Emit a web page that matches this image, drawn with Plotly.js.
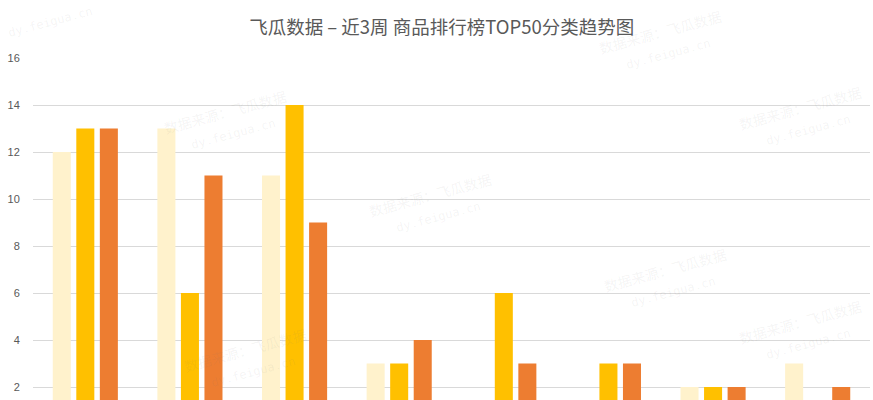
<!DOCTYPE html>
<html>
<head>
<meta charset="utf-8">
<script src="https://cdn.plot.ly/plotly-3.0.1.min.js"></script>
<style>
html,body{margin:0;padding:0;background:#fff;overflow:hidden;}
#chart{width:873px;height:400px;}
</style>
</head>
<body>
<div id="chart"></div>
<script>
const categories = ["类目1","类目2","类目3","类目4","类目5","类目6","类目7","类目8"];
const seriesNames = ["第1周","第2周","第3周"];
const week1 = [12, 13, 11, 3, 0, 0, 2, 3];
const week2 = [13, 6, 14, 3, 6, 3, 2, 0];
const week3 = [13, 11, 9, 4, 3, 3, 2, 2];
const yTicks = [2, 4, 6, 8, 10, 12, 14, 16];
const colors = ["#FFF2CC", "#FFC000", "#ED7D31"];
const titleText = "飞瓜数据 – 近3周 商品排行榜TOP50分类趋势图";

const traces = [week1, week2, week3].map((vals, i) => ({
  type: "bar",
  name: seriesNames[i],
  x: categories,
  y: vals,
  marker: {color: colors[i], line: {width: 0}},
  hoverinfo: "x+y+name"
}));

const wmColor = "rgba(120,120,120,0.08)";
const wmFont = {family: "Noto Sans CJK SC", size: 14, color: wmColor};
const wmSpots = [[660,32],[225,112],[800,108],[430,195],[665,270],[800,322],[245,350]];
const annotations = [];
function addWm(text, px, py, font) {
  annotations.push({
    xref: "paper", yref: "paper",
    x: (px - 33) / 837, y: 1 - (py - 58) / 342,
    xanchor: "center", yanchor: "middle",
    text: text, showarrow: false, textangle: -15, font: font
  });
}
const monoFont = {family: "DejaVu Sans Mono", size: 12, color: wmColor};
wmSpots.forEach(([px, py]) => {
  addWm("数据来源：飞瓜数据", px, py, wmFont);
  addWm("dy.feigua.cn", px + 8, py + 22, monoFont);
});
addWm("dy.feigua.cn", 50, 22, monoFont);

const layout = {
  width: 873, height: 400,
  margin: {l: 33, r: 3, t: 58, b: 0},
  paper_bgcolor: "#fff", plot_bgcolor: "#fff",
  showlegend: false,
  barmode: "group",
  bargap: 0.325,
  bargroupgap: 0.234,
  title: {
    text: titleText,
    xref: "container", yref: "container",
    x: 0.506, y: 0.93, xanchor: "center", yanchor: "middle",
    font: {family: "Noto Sans CJK SC", size: 18.5, color: "#595959"}
  },
  xaxis: {
    showticklabels: false, showgrid: false, zeroline: false, showline: false,
    ticks: ""
  },
  yaxis: {
    range: [1.447, 16],
    tickvals: yTicks,
    ticktext: yTicks.map(String),
    showgrid: true, gridcolor: "#d9d9d9", gridwidth: 1,
    zeroline: false, showline: false,
    ticks: "outside", ticklen: 10, tickcolor: "rgba(0,0,0,0)",
    tickfont: {family: "Liberation Sans", size: 11, color: "#595959"},
    fixedrange: true
  },
  annotations: annotations
};

Plotly.newPlot("chart", traces, layout, {displayModeBar: false, staticPlot: true});
</script>
</body>
</html>
